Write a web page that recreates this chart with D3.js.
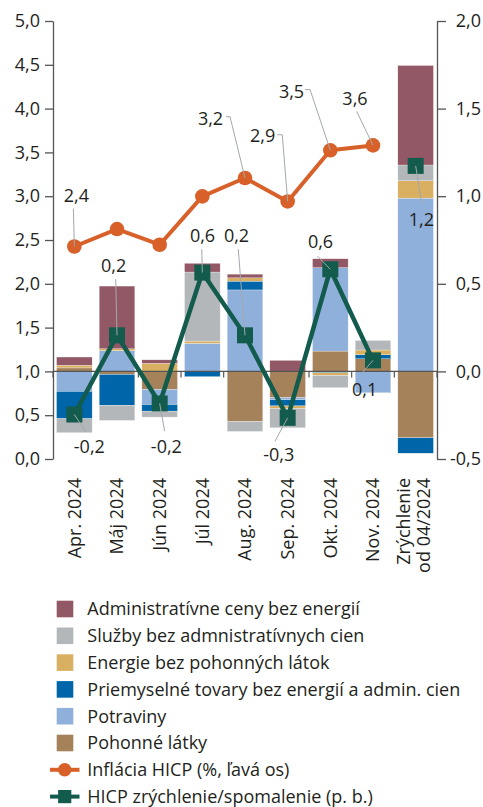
<!DOCTYPE html>
<html>
<head>
<meta charset="utf-8">
<script src="https://cdn.jsdelivr.net/npm/d3@7"></script>
<style>
  body { margin: 0; background: #fff; }
  svg text { font-family: "Open Sans", sans-serif; fill: #231f20; }
</style>
</head>
<body>
<svg id="chart"></svg>
<script>
// categories on the x axis
const categories = ["Apr. 2024", "Máj 2024", "Jún 2024", "Júl 2024", "Aug. 2024", "Sep. 2024", "Okt. 2024", "Nov. 2024", "Zrýchlenie|od 04/2024"];

// contributions (p. b., right axis)
const pohonne     = [0.020, -0.017, -0.103, 0.000, -0.286, -0.150, 0.116, 0.072, -0.379];
const potraviny   = [-0.114, 0.118, -0.086, 0.160, 0.465, -0.012, 0.476, -0.122, 0.989];
const priemyselne = [-0.156, -0.177, -0.038, -0.030, 0.050, -0.035, -0.008, 0.023, -0.088];
const energie     = [0.015, 0.011, 0.046, 0.013, 0.019, -0.015, -0.015, 0.027, 0.099];
const sluzby      = [-0.080, -0.086, -0.034, 0.394, -0.057, -0.110, -0.070, 0.055, 0.090];
const admin       = [0.047, 0.358, 0.020, 0.050, 0.021, 0.063, 0.051, 0.000, 0.568];

// HICP inflation (%, left axis), Apr..Nov
const inflacia = [2.426, 2.625, 2.446, 2.998, 3.208, 2.940, 3.524, 3.580];
// HICP acceleration (p. b., right axis), last one is the 04/2024 total
const zrychlenie = [-0.246, 0.206, -0.183, 0.564, 0.206, -0.265, 0.583, 0.063, 1.173];

const leftTicks = [0, 0.5, 1, 1.5, 2, 2.5, 3, 3.5, 4, 4.5, 5];
const rightTicks = [-0.5, 0, 0.5, 1, 1.5, 2];

const seriesNames = {
    admin: "Administratívne ceny bez energií",
    sluzby: "Služby bez admnistratívnych cien",
    energie: "Energie bez pohonných látok",
    priemyselne: "Priemyselné tovary bez energií a admin. cien",
    potraviny: "Potraviny",
    pohonne: "Pohonné látky"
};
const colors = {
    admin: "#935866",
    sluzby: "#b3b7b9",
    energie: "#d9b062",
    priemyselne: "#0066a9",
    potraviny: "#8fb0da",
    pohonne: "#a5825a"
};
const orange = "#d8612a", green = "#135b4c", axisColor = "#555";

// stack order from zero outwards
const stackKeys = ["pohonne", "potraviny", "priemyselne", "energie", "sluzby", "admin"];
const legendKeys = ["admin", "sluzby", "energie", "priemyselne", "potraviny", "pohonne"];

const table = categories.map(function (c, i) {
    return {cat: c, pohonne: pohonne[i], potraviny: potraviny[i], priemyselne: priemyselne[i],
        energie: energie[i], sluzby: sluzby[i], admin: admin[i]};
});

const fmt = function (v) { return d3.format(".1f")(v).replace("−", "-").replace(".", ","); };

// label placement (offsets from the point, px)
const inflLabels = [
    {i: 0, dx: 2, dy: -44, path: [[-1, -38], [0, 0]]},
    {i: 4, dx: -34.5, dy: -53, path: [[-19, -61.3], [-15, -61.3], [0, 0]]},
    {i: 5, dx: -25, dy: -59, path: [[-10.7, -66.7], [-5.4, -66.7], [0, 0]]},
    {i: 6, dx: -38.8, dy: -52.7, path: [[-25.3, -60.7], [-20.3, -60.7], [0, 0]]},
    {i: 7, dx: -18, dy: -40.7, path: [[-16.3, -34], [0, 0]]}
];
const zrLabels = [
    {i: 0, dx: 15, dy: 39, path: [[0, 0], [11.5, 17.7]]},
    {i: 1, dx: -3.3, dy: -63.3, path: [[-1.3, -56], [0, 0]]},
    {i: 2, dx: 6.7, dy: 50, path: [[0, 0], [5, 27.7]]},
    {i: 3, dx: 0.2, dy: -30.6, path: [[-0.6, -23.3], [0, 0]]},
    {i: 4, dx: -8.5, dy: -93.3, path: [[-6.7, -86], [0, 0]]},
    {i: 5, dx: -8.9, dy: 43.4, path: [[0, 0], [-12.7, 23.4]]},
    {i: 6, dx: -9.8, dy: -21, path: [[-13, -13.3], [0, 0]]},
    {i: 7, dx: -8.3, dy: 35.7, path: [[-11.3, 13], [0, 0]]},
    {i: 8, dx: 5.7, dy: 60, path: [[0, 0], [6.3, 38.3]]}
];

const width = 483, height = 807;
const plot = {left: 53, right: 437, top: 21, bottom: 459};

const svg = d3.select("#chart").attr("width", width).attr("height", height);

const x = d3.scaleBand().domain(categories).range([plot.left, plot.right])
    .paddingInner(0.165).paddingOuter(0.083);
const yL = d3.scaleLinear().domain([0, 5]).range([plot.bottom, plot.top]);
const yR = d3.scaleLinear().domain([-0.5, 2]).range([plot.bottom, plot.top]);
const cx = function (i) { return x(categories[i]) + x.bandwidth() / 2; };

// small ticks on the zero line at band boundaries
const bounds = [plot.left];
for (let i = 1; i < categories.length; i++) {
    bounds.push((x(categories[i - 1]) + x.bandwidth() + x(categories[i])) / 2);
}
bounds.push(plot.right);
svg.append("g").selectAll("line").data(bounds).enter().append("line")
    .attr("x1", d => d).attr("x2", d => d)
    .attr("y1", yR(0)).attr("y2", yR(0) + 6)
    .attr("stroke", axisColor).attr("stroke-width", 1.2);

// stacked bars
const stack = d3.stack().keys(stackKeys).offset(d3.stackOffsetDiverging);
const layers = stack(table);
svg.append("g").selectAll("g").data(layers).enter().append("g")
    .attr("fill", d => colors[d.key])
    .selectAll("rect").data(d => d).enter().append("rect")
    .attr("x", d => x(d.data.cat))
    .attr("width", x.bandwidth())
    .attr("y", d => yR(Math.max(d[0], d[1])))
    .attr("height", d => Math.abs(yR(d[0]) - yR(d[1])))
    .attr("stroke", "#fff").attr("stroke-width", 0.4).attr("stroke-opacity", 0.7);

// zero line
svg.append("line")
    .attr("x1", plot.left).attr("x2", plot.right)
    .attr("y1", yR(0)).attr("y2", yR(0))
    .attr("stroke", axisColor).attr("stroke-width", 1.3);

// left axis
const gL = svg.append("g").attr("transform", "translate(" + plot.left + ",0)")
    .call(d3.axisLeft(yL).tickValues(leftTicks).tickSize(8).tickSizeOuter(0).tickPadding(5).tickFormat(fmt));
// right axis
const gR = svg.append("g").attr("transform", "translate(" + plot.right + ",0)")
    .call(d3.axisRight(yR).tickValues(rightTicks).tickSize(9).tickSizeOuter(0).tickPadding(5).tickFormat(fmt));
gR.selectAll("text").attr("text-anchor", "end").attr("x", 44);
[gL, gR].forEach(function (g) {
    g.select(".domain").attr("stroke", axisColor).attr("stroke-width", 1.3);
    g.selectAll(".tick line").attr("stroke", axisColor).attr("stroke-width", 1.3);
    g.selectAll("text").style("font-family", "'Open Sans', sans-serif").style("font-size", "18px").attr("fill", "#231f20");
});

// x labels (rotated)
const xl = svg.append("g").selectAll("text").data(categories).enter().append("text")
    .attr("transform", (d, i) => "translate(" + cx(i) + "," + (plot.bottom + 19) + ") rotate(-90)")
    .attr("text-anchor", "end")
    .style("font-size", "18px");
xl.each(function (d) {
    const parts = d.split("|");
    const t = d3.select(this);
    if (parts.length === 1) {
        t.append("tspan").attr("x", 0).attr("dy", "0.35em").text(parts[0]);
    } else {
        t.append("tspan").attr("x", 0).attr("dy", "-0.33em").text(parts[0]);
        t.append("tspan").attr("x", 0).attr("dy", "1.15em").text(parts[1]);
    }
});

// inflation line
const lineL = d3.line().x((d, i) => cx(i)).y(d => yL(d));
svg.append("path").datum(inflacia)
    .attr("d", lineL).attr("fill", "none")
    .attr("stroke", orange).attr("stroke-width", 4).attr("stroke-linejoin", "round");
svg.append("g").selectAll("circle").data(inflacia).enter().append("circle")
    .attr("cx", (d, i) => cx(i)).attr("cy", d => yL(d)).attr("r", 7.3)
    .attr("fill", orange);

// acceleration line (monthly only) + markers
const lineR = d3.line().x((d, i) => cx(i)).y(d => yR(d));
svg.append("path").datum(zrychlenie.slice(0, 8))
    .attr("d", lineR).attr("fill", "none")
    .attr("stroke", green).attr("stroke-width", 4.5).attr("stroke-linejoin", "miter");
const sq = 16;
svg.append("g").selectAll("rect").data(zrychlenie).enter().append("rect")
    .attr("x", (d, i) => cx(i) - sq / 2).attr("y", d => yR(d) - sq / 2)
    .attr("width", sq).attr("height", sq)
    .attr("fill", green);

// data labels with leader lines
function addLabels(list, values, yScale) {
    const g = svg.append("g");
    list.forEach(function (l) {
        const px = cx(l.i), py = yScale(values[l.i]);
        g.append("path")
            .attr("d", d3.line()(l.path.map(p => [px + p[0], py + p[1]])))
            .attr("fill", "none").attr("stroke", "#a3a8ab").attr("stroke-width", 1);
        g.append("text")
            .attr("x", px + l.dx).attr("y", py + l.dy)
            .attr("text-anchor", "middle")
            .style("font-size", "18px")
            .text(fmt(values[l.i]));
    });
}
addLabels(inflLabels, inflacia, yL);
addLabels(zrLabels, zrychlenie, yR);

// legend
const legY0 = 609, legStep = 26.8;
const leg = svg.append("g");
legendKeys.forEach(function (k, i) {
    const y = legY0 + i * legStep;
    leg.append("rect").attr("x", 56.7).attr("y", y - 8.3).attr("width", 16.6).attr("height", 16.6)
        .attr("fill", colors[k]);
    leg.append("text").attr("x", 87.3).attr("y", y).attr("dy", "0.35em")
        .style("font-size", "18px").text(seriesNames[k]);
});
const yInf = legY0 + 6 * legStep, yZr = legY0 + 7 * legStep;
leg.append("line").attr("x1", 50).attr("x2", 79.5).attr("y1", yInf).attr("y2", yInf)
    .attr("stroke", orange).attr("stroke-width", 4);
leg.append("circle").attr("cx", 64.7).attr("cy", yInf).attr("r", 6.8).attr("fill", orange);
leg.append("text").attr("x", 87.3).attr("y", yInf).attr("dy", "0.35em")
    .style("font-size", "18px").text("Inflácia HICP (%, ľavá os)");
leg.append("line").attr("x1", 50).attr("x2", 79.5).attr("y1", yZr).attr("y2", yZr)
    .attr("stroke", green).attr("stroke-width", 4);
leg.append("rect").attr("x", 64.7 - 6.6).attr("y", yZr - 6.6).attr("width", 13.2).attr("height", 13.2).attr("fill", green);
leg.append("text").attr("x", 87.3).attr("y", yZr).attr("dy", "0.35em")
    .style("font-size", "18px").text("HICP zrýchlenie/spomalenie (p. b.)");
</script>
</body>
</html>
